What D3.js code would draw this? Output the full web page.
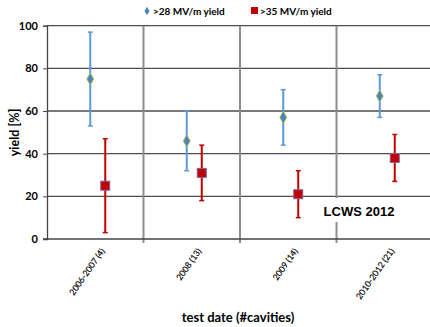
<!DOCTYPE html>
<html><head><meta charset="utf-8">
<script src="https://cdn.jsdelivr.net/npm/d3@7"></script>
<style>body{margin:0;background:#fff}svg{display:block}</style>
</head><body>
<script>
const categories = ["2006-2007 (4)", "2008 (13)", "2009 (14)", "2010-2012 (21)"];
const yield28 = [75, 46, 57, 67];
const yield28Low = [53, 32, 44, 57];
const yield28High = [97, 60, 70, 77];
const yield35 = [25, 31, 21, 38];
const yield35Low = [3, 18, 10, 27];
const yield35High = [47, 44, 32, 49];
const yTicks = [0, 20, 40, 60, 80, 100];

const W = 430, H = 327;
const m = {left: 47, right: -3, top: 25.7, bottom: 88};
const svg = d3.select("body").append("svg").attr("width", W).attr("height", H);
const x = d3.scaleBand().domain(categories).range([m.left, W - m.right]).padding(0);
const y = d3.scaleLinear().domain([0, 100]).range([H - m.bottom, m.top]);
const font = "Lato, 'Open Sans', sans-serif";

// horizontal gridlines
svg.append("g").selectAll("line").data(yTicks.slice(1)).join("line")
  .attr("x1", m.left).attr("x2", W).attr("y1", d => y(d)).attr("y2", d => y(d))
  .attr("stroke", "#4d4d4d").attr("stroke-width", 1.3);
// vertical separators
svg.append("g").selectAll("line").data(categories.slice(1)).join("line")
  .attr("x1", d => x(d)).attr("x2", d => x(d)).attr("y1", y(100)).attr("y2", y(0) + 4)
  .attr("stroke", "#8c8c8c").attr("stroke-width", 2);

// y axis
const yAxis = svg.append("g").attr("transform", `translate(${m.left},0)`)
  .call(d3.axisLeft(y).tickValues(yTicks).tickSize(4).tickPadding(5));
yAxis.select(".domain").attr("stroke", "#444").attr("stroke-width", 1.3);
yAxis.selectAll(".tick line").attr("stroke", "#444");
yAxis.selectAll("text").attr("font-family", font).attr("font-weight", "bold").attr("font-size", 11).attr("fill", "#000");
// x axis line
svg.append("line").attr("x1", m.left - 4).attr("x2", W).attr("y1", y(0)).attr("y2", y(0))
  .attr("stroke", "#444").attr("stroke-width", 1.3);

// x labels
svg.append("g").selectAll("text").data(categories).join("text")
  .attr("transform", d => `translate(${x(d) + x.bandwidth() / 2 + 10},${y(0) + 12}) rotate(-55)`)
  .attr("text-anchor", "end").attr("font-family", font).attr("font-size", 8.6).attr("fill", "#000")
  .attr("stroke", "#000").attr("stroke-width", 0.15)
  .text(d => d);

// titles
svg.append("text").attr("transform", `translate(19,${(y(0) + y(100)) / 2}) rotate(-90)`)
  .attr("text-anchor", "middle").attr("font-family", font).attr("font-weight", "bold").attr("font-size", 12.5).text("yield [%]");
svg.append("text").attr("x", 238).attr("y", 322).attr("text-anchor", "middle")
  .attr("font-family", font).attr("font-weight", "bold").attr("font-size", 13).text("test date (#cavities)");

const c28 = "#5b9bd5", c35 = "#c00000";
function series(vals, lo, hi, off, color, shape) {
  const g = svg.append("g");
  const cx = i => x(categories[i]) + x.bandwidth() / 2 + off;
  vals.forEach((v, i) => {
    g.append("line").attr("x1", cx(i)).attr("x2", cx(i)).attr("y1", y(lo[i])).attr("y2", y(hi[i]))
      .attr("stroke", color).attr("stroke-width", 2);
    [lo[i], hi[i]].forEach(e => g.append("line").attr("x1", cx(i) - 2.5).attr("x2", cx(i) + 2.5)
      .attr("y1", y(e)).attr("y2", y(e)).attr("stroke", color).attr("stroke-width", 1.5));
    if (shape === "diamond") {
      g.append("path").attr("d", d3.symbol(d3.symbolDiamond, 40)()).attr("transform", `translate(${cx(i)},${y(v)})`)
        .attr("fill", "#4f81bd").attr("stroke", "#9bbb59").attr("stroke-width", 1);
    } else {
      g.append("rect").attr("x", cx(i) - 4.5).attr("y", y(v) - 4.5).attr("width", 9).attr("height", 9)
        .attr("fill", "#c00000").attr("stroke", "#8064a2").attr("stroke-width", 1);
    }
  });
}
series(yield28, yield28Low, yield28High, -5, c28, "diamond");
series(yield35, yield35Low, yield35High, 10, c35, "square");

// legend
const lg = svg.append("g").attr("font-family", font).attr("font-weight", "bold").attr("font-size", 10);
lg.append("path").attr("d", d3.symbol(d3.symbolDiamond, 22)()).attr("transform", "translate(147,11)").attr("fill", "#4f81bd");
lg.append("text").attr("x", 153).attr("y", 14.5).text(">28 MV/m yield");
lg.append("rect").attr("x", 251).attr("y", 7).attr("width", 7).attr("height", 7).attr("fill", "#c00000");
lg.append("text").attr("x", 260).attr("y", 14.5).text(">35 MV/m yield");

// annotation
svg.append("rect").attr("x", 319).attr("y", 198).attr("width", 80).attr("height", 24).attr("fill", "#fff");
svg.append("text").attr("x", 359).attr("y", 216).attr("text-anchor", "middle")
  .attr("font-family", "'Liberation Sans', Arial, sans-serif").attr("font-weight", "bold").attr("font-size", 13).text("LCWS 2012");
</script>
</body></html>
